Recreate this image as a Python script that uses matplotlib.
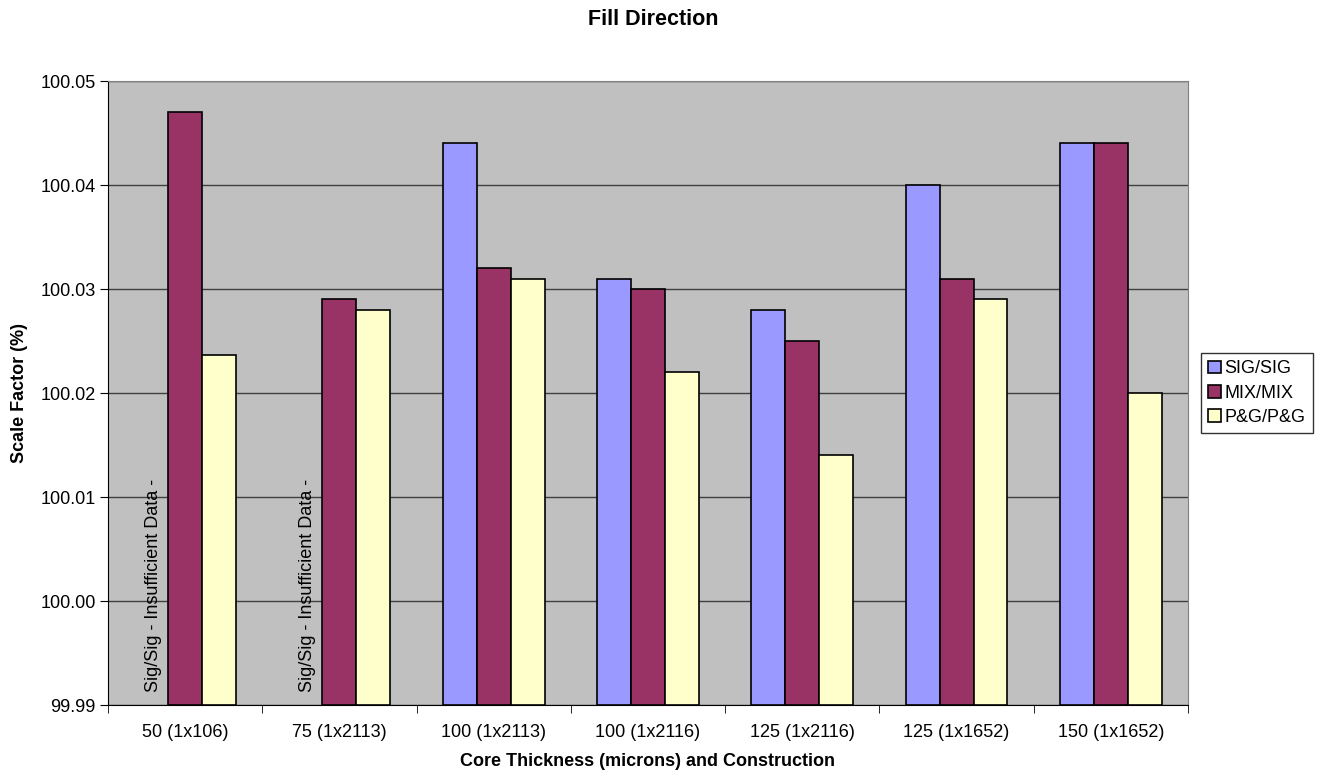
import numpy as np
import matplotlib
matplotlib.use("Agg")
from matplotlib import pyplot as plt

plt.rcParams['font.family'] = ['Liberation Sans', 'DejaVu Sans']

# core thickness / construction groups
categorias = ["50 (1x106)", "75 (1x2113)", "100 (1x2113)", "100 (1x2116)",
              "125 (1x2116)", "125 (1x1652)", "150 (1x1652)"]
series = ["SIG/SIG", "MIX/MIX", "P&G/P&G"]
# scale factor (%) per series, None = insufficient data
sig = [None, None, 100.044, 100.031, 100.028, 100.040, 100.044]
mix = [100.047, 100.029, 100.032, 100.030, 100.025, 100.031, 100.044]
pg = [100.0237, 100.028, 100.031, 100.022, 100.014, 100.029, 100.020]
colores = ["#9999FF", "#993366", "#FFFFCC"]
nota = "Sig/Sig - Insufficient Data -"

ymin, ymax = 99.99, 100.05

fig = plt.figure(figsize=(13.18, 7.74), dpi=100)
ax = fig.add_axes([108/1318, 69/774, 1080/1318, 624/774])
ax.set_facecolor("#C0C0C0")

x = np.arange(len(categorias))
ancho = 0.22
for k, (datos, nombre, col) in enumerate(zip([sig, mix, pg], series, colores)):
    pos = x + (k - 1) * ancho
    for j, v in enumerate(datos):
        if v is None:
            if k == 0:
                ax.annotate(nota, (pos[j], ymin), xytext=(2, 13),
                            textcoords="offset pixels", rotation=90,
                            ha="center", va="bottom", fontsize=13)
            continue
        ax.bar(pos[j], v - ymin, bottom=ymin, width=ancho, color=col,
               edgecolor="black", linewidth=1.2, zorder=3,
               label=nombre if j == 2 else None)

ax.set_ylim(ymin, ymax)
ax.set_xlim(-0.5, len(categorias) - 0.5)
ax.set_yticks(np.arange(ymin, ymax + 0.001, 0.01))
ax.set_yticklabels(["%.2f" % t for t in np.arange(ymin, ymax + 0.001, 0.01)])
ax.yaxis.grid(True, color="#404040", linewidth=1.0, zorder=1)

ax.set_xticks(x)
ax.set_xticklabels(categorias)
ax.set_xticks(np.arange(-0.5, len(categorias), 1), minor=True)
ax.tick_params(axis="x", which="major", length=0, pad=14, labelsize=13)
ax.tick_params(axis="x", which="minor", length=6, direction="out")
ax.tick_params(axis="y", length=6, direction="out", labelsize=13, pad=3)

ax.spines["left"].set_color("black")
ax.spines["bottom"].set_color("black")
ax.spines["top"].set_color("#808080")
ax.spines["right"].set_color("#808080")

ax.set_xlabel("Core Thickness (microns) and Construction", fontsize=13,
              fontweight="bold", labelpad=8)
ax.set_ylabel("Scale Factor (%)", fontsize=13, fontweight="bold")
ax.yaxis.set_label_coords(-80/1080, 0.5)
fig.suptitle("Fill Direction", fontsize=15.5, fontweight="bold", x=653/1318, y=0.988)

leg = ax.legend(loc="center left", bbox_to_anchor=(1.012, 0.5), fontsize=13,
                frameon=True, fancybox=False, edgecolor="black",
                handlelength=0.7, handleheight=0.7, handletextpad=0.2,
                borderpad=0.4, labelspacing=0.4, borderaxespad=0)
leg.get_frame().set_linewidth(1.0)

fig.savefig("out.png", dpi=100)
